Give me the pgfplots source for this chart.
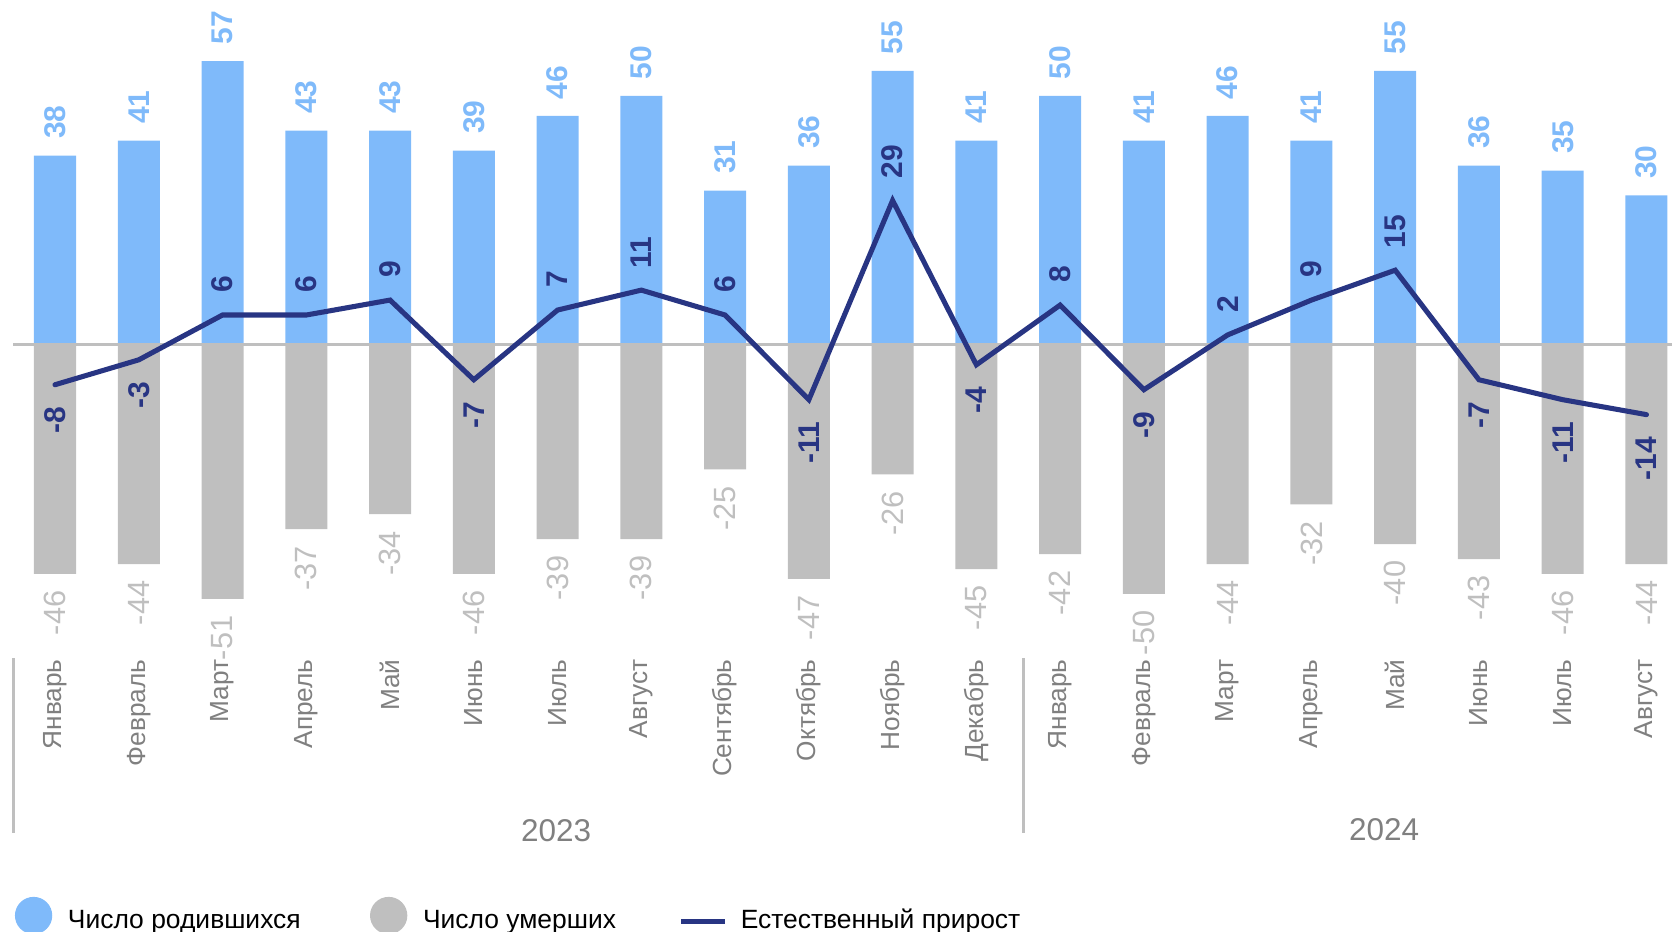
\documentclass[border=0pt]{standalone}
\usepackage{fontspec}
\setmainfont{Liberation Sans}
\usepackage{pgfplots}
\usepackage{pgfplotstable}
\pgfplotsset{compat=1.18}

\definecolor{cBirth}{RGB}{127,186,250}
\definecolor{cDeath}{RGB}{191,191,191}
\definecolor{cLine}{RGB}{40,53,131}
\definecolor{cText}{RGB}{128,128,128}

% births, deaths, natural growth (thousands), Jan 2023 - Aug 2024
\pgfplotstableread{
x  b   d   g
0  38 -46  -8
1  41 -44  -3
2  57 -51   6
3  43 -37   6
4  43 -34   9
5  39 -46  -7
6  46 -39   7
7  50 -39  11
8  31 -25   6
9  36 -47 -11
10 55 -26  29
11 41 -45  -4
12 50 -42   8
13 41 -50  -9
14 46 -44   2
15 41 -32   9
16 55 -40  15
17 36 -43  -7
18 35 -46 -11
19 30 -44 -14
}\data

\pgfplotsset{
  glabel/.style={draw=none, mark=none, forget plot,
    point meta=explicit symbolic, nodes near coords,
    every node near coord/.append style={rotate=90, anchor=#1,
        inner xsep=0.2cm, inner ysep=0pt,
        font=\bfseries\fontsize{8}{9}\selectfont, text=cLine}},
}

\begin{document}
\begin{tikzpicture}
\path[use as bounding box] (-0.123,-2.554) rectangle (15.557,6.177);
\begin{axis}[
    x=0.7855cm, y=0.0467cm,
    xmin=-0.5, xmax=19.305,
    ymin=-63, ymax=69.27,
    clip=false,
    axis line style={draw=none},
    major tick length=0pt,
    ytick=\empty,
    xtick={0,...,19},
    xticklabels={Январь,Февраль,Март,Апрель,Май,Июнь,Июль,Август,Сентябрь,Октябрь,Ноябрь,Декабрь,Январь,Февраль,Март,Апрель,Май,Июнь,Июль,Август},
    xticklabel style={rotate=90, anchor=east, inner sep=0pt,
        font=\fontsize{7}{8}\selectfont, text=cText},
]
\addplot[ybar, bar width=0.394cm, bar shift=0pt, fill=cBirth, draw=none,
    point meta=explicit symbolic, nodes near coords,
    every node near coord/.append style={rotate=90, anchor=west,
        inner xsep=0.15cm, inner ysep=0pt,
        font=\bfseries\fontsize{8}{9}\selectfont, text=cBirth}]
    table[x=x, y=b, meta=b] {\data};
\addplot[ybar, bar width=0.394cm, bar shift=0pt, fill=cDeath, draw=none,
    point meta=explicit symbolic, nodes near coords,
    every node near coord/.append style={rotate=90, anchor=east,
        inner xsep=0.15cm, inner ysep=0pt,
        font=\fontsize{8.2}{9}\selectfont, text=cDeath}]
    table[x=x, y=d, meta=d] {\data};
\draw[cDeath, line width=0.8pt] (axis cs:-0.5,0) -- (axis cs:19.305,0);
\addplot[cLine, line width=1.35pt, line cap=round, mark=none]
    table[x=x, y=g] {\data};
% growth labels: above the line for gains, below for losses
\addplot[glabel=west, restrict y to domain=0:100]
    table[x=x, y=g, meta=g] {\data};
\addplot[glabel=east, restrict y to domain=-100:-0.5]
    table[x=x, y=g, meta=g] {\data};
\end{axis}

% year separators and labels
\draw[cDeath, line width=0.7pt] (0.002,0.002) -- (0.002,-1.639);
\draw[cDeath, line width=0.7pt] (9.477,0.002) -- (9.477,-1.639);
\node[anchor=base, inner sep=0pt, font=\fontsize{8.4}{10}\selectfont, text=cText] at (5.092,-1.717) {2023};
\node[anchor=base, inner sep=0pt, font=\fontsize{8.4}{10}\selectfont, text=cText] at (12.857,-1.702) {2024};

% legend
\fill[cBirth] (0.192,-2.409) circle (0.175);
\node[anchor=base west, inner sep=0pt, font=\fontsize{7.05}{9}\selectfont] at (0.507,-2.53) {Число родившихся};
\fill[cDeath] (3.522,-2.409) circle (0.175);
\node[anchor=base west, inner sep=0pt, font=\fontsize{7.05}{9}\selectfont] at (3.837,-2.53) {Число умерших};
\draw[cLine, line width=1.3pt] (6.267,-2.468) -- (6.677,-2.468);
\node[anchor=base west, inner sep=0pt, font=\fontsize{7.05}{9}\selectfont] at (6.817,-2.53) {Естественный прирост};
\end{tikzpicture}
\end{document}
